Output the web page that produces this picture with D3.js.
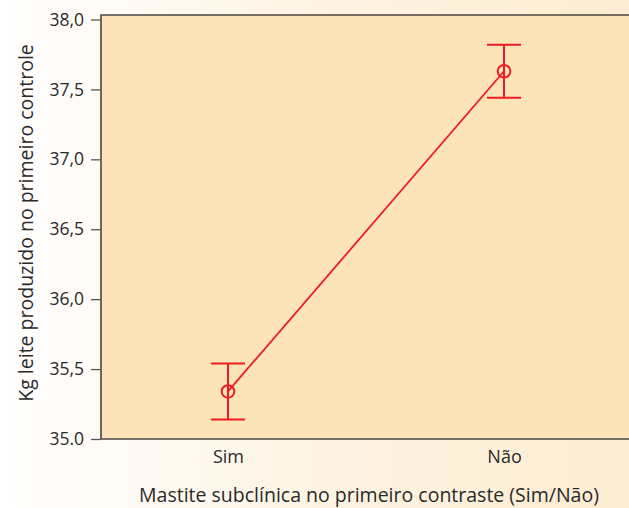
<!DOCTYPE html>
<html>
<head>
<meta charset="utf-8">
<script src="https://cdn.jsdelivr.net/npm/d3@7"></script>
<style>
  body { margin: 0; }
  svg { display: block; font-family: "Open Sans", "Noto Sans", sans-serif; }
</style>
</head>
<body>
<div id="chart"></div>
<script>
// data
let categories = ["Sim", "Não"];
let means = [35.34, 37.63];
let upper = [35.54, 37.82];
let lower = [35.14, 37.44];
let yTicks = [35.0, 35.5, 36.0, 36.5, 37.0, 37.5, 38.0];
let yTickLabels = ["35.0", "35,5", "36,0", "36,5", "37,0", "37,5", "38,0"];

let W = 629, H = 508;
let margin = { top: 15, right: -2, bottom: 69, left: 101 },
    width = W - margin.left - margin.right,
    height = H - margin.top - margin.bottom;

let svg = d3.select("#chart")
    .append("svg")
    .attr("width", W)
    .attr("height", H);

// page background, white to cream
let grad = svg.append("defs").append("linearGradient")
    .attr("id", "bg")
    .attr("x1", 0).attr("x2", 1).attr("y1", 0).attr("y2", 0);
grad.append("stop").attr("offset", "0%").attr("stop-color", "#ffffff");
grad.append("stop").attr("offset", "45%").attr("stop-color", "#fef5e6");
grad.append("stop").attr("offset", "100%").attr("stop-color", "#fdecd0");
svg.append("rect").attr("width", W).attr("height", H).attr("fill", "url(#bg)");

let g = svg.append("g")
    .attr("transform", "translate(" + margin.left + "," + margin.top + ")");

let x = d3.scalePoint()
    .domain(categories)
    .range([0, width])
    .padding(0.46);

let y = d3.scaleLinear()
    .domain([35.0, 38.0])
    .range([height, 4.5]);

// plot area
g.append("rect")
    .attr("width", width + 10)
    .attr("height", height)
    .attr("fill", "#fde4b8")
    .attr("stroke", "none");

g.append("path")
    .attr("d", "M" + (width + 10) + ",0H0V" + height + "H" + (width + 10))
    .attr("fill", "none")
    .attr("stroke", "#4a4540")
    .attr("stroke-width", 1.6);

// y axis
let yAxis = g.append("g")
    .call(d3.axisLeft(y)
        .tickValues(yTicks)
        .tickFormat(function (d, i) { return yTickLabels[i]; })
        .tickSize(10)
        .tickPadding(7)
        .tickSizeOuter(0));
yAxis.select(".domain").remove();
yAxis.selectAll("line").attr("stroke", "#5a5550").attr("stroke-width", 1.3);
yAxis.selectAll("text")
    .attr("fill", "#2a2a2a")
    .style("font-size", "17.5px")
    .style("font-family", "\"Open Sans\", sans-serif");

// x axis labels
let xAxis = g.append("g")
    .attr("transform", "translate(0," + height + ")")
    .call(d3.axisBottom(x).tickSize(0).tickPadding(11));
xAxis.select(".domain").remove();
xAxis.selectAll("text")
    .attr("fill", "#2a2a2a")
    .style("font-size", "18px")
    .style("font-family", "\"Open Sans\", sans-serif");

// axis titles
svg.append("text")
    .attr("x", margin.left + 268)
    .attr("y", 502)
    .attr("text-anchor", "middle")
    .attr("fill", "#2a2a2a")
    .style("font-size", "19.5px")
    .text("Mastite subclínica no primeiro contraste (Sim/Não)");

svg.append("text")
    .attr("transform", "translate(33,223) rotate(-90)")
    .attr("text-anchor", "middle")
    .attr("fill", "#2a2a2a")
    .style("font-size", "19.5px")
    .text("Kg leite produzido no primeiro controle");

let red = "#ec1c24";
let data = categories.map(function (c, i) {
    return { cat: c, mean: means[i], hi: upper[i], lo: lower[i] };
});

// connecting line
g.append("path")
    .datum(data)
    .attr("fill", "none")
    .attr("stroke", red)
    .attr("stroke-width", 1.8)
    .attr("d", d3.line()
        .x(function (d) { return x(d.cat); })
        .y(function (d) { return y(d.mean); }));

// error bars
let eb = g.selectAll(".eb")
    .data(data)
    .enter()
    .append("g")
    .attr("class", "eb")
    .attr("stroke", red)
    .attr("stroke-width", 2)
    .attr("fill", "none");

eb.append("line")
    .attr("x1", function (d) { return x(d.cat); })
    .attr("x2", function (d) { return x(d.cat); })
    .attr("y1", function (d) { return y(d.hi); })
    .attr("y2", function (d) { return y(d.lo); });
eb.append("line")
    .attr("x1", function (d) { return x(d.cat) - 17; })
    .attr("x2", function (d) { return x(d.cat) + 17; })
    .attr("y1", function (d) { return y(d.hi); })
    .attr("y2", function (d) { return y(d.hi); });
eb.append("line")
    .attr("x1", function (d) { return x(d.cat) - 17; })
    .attr("x2", function (d) { return x(d.cat) + 17; })
    .attr("y1", function (d) { return y(d.lo); })
    .attr("y2", function (d) { return y(d.lo); });
eb.append("circle")
    .attr("cx", function (d) { return x(d.cat); })
    .attr("cy", function (d) { return y(d.mean); })
    .attr("r", 6.3);
</script>
</body>
</html>
